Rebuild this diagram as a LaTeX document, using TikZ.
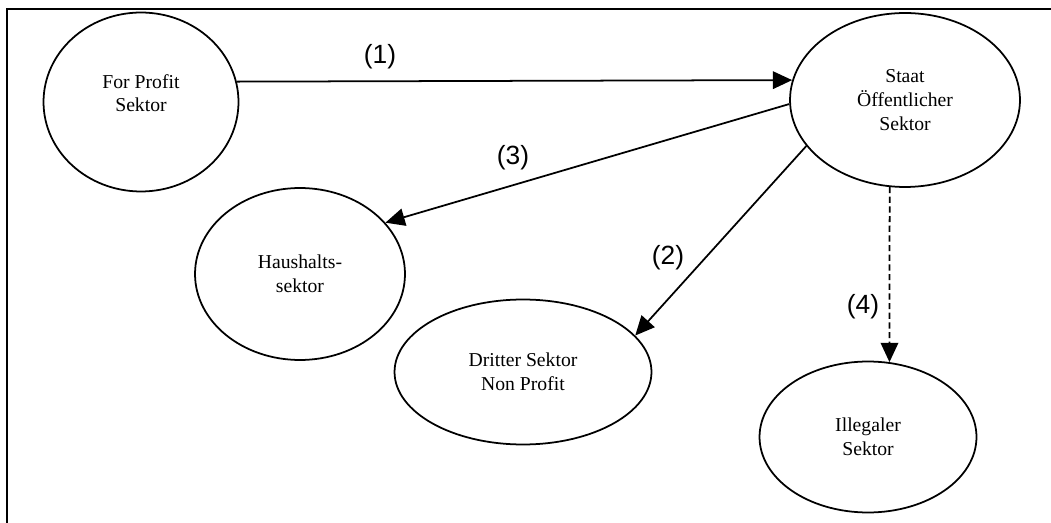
\documentclass[tikz,border=0pt]{standalone}
\usepackage{fontspec}
\setmainfont{Liberation Serif}
\newfontfamily\nrfont{Liberation Sans}
\usetikzlibrary{shapes.geometric,arrows.meta}
\begin{document}
\begin{tikzpicture}[x=0.02cm,y=-0.02cm,
        sektor/.style={ellipse,draw,line width=1pt,inner sep=0pt,align=center,font=\fontsize{11.2}{13.5}\selectfont},
        nr/.style={font=\nrfont\fontsize{15}{18}\selectfont,inner sep=1pt},
        pfeil/.style={line width=1pt,-{Triangle[length=11pt,width=10pt]}}]
            \useasboundingbox (0,0) rectangle (1051,523);
            \draw[line width=1.4pt] (7,523) -- (7,9) -- (1051,9);

            \node[sektor, minimum width=3.9cm, minimum height=3.58cm] at (141,102) (fp) {For Profit\\Sektor\\[-3.5pt]};
            \node[sektor, minimum width=4.6cm, minimum height=3.48cm] at (905,100) (st) {Staat\\Öffentlicher\\Sektor};
            \node[sektor, minimum width=4.2cm, minimum height=3.44cm] at (300,274) (hh) {Haushalts-\\sektor};
            \node[sektor, minimum width=5.14cm, minimum height=2.9cm] at (523,372) (dr) {Dritter Sektor\\Non Profit};
            \node[sektor, minimum width=4.34cm, minimum height=3.02cm] at (868,437) (il) {Illegaler\\Sektor};

            \node[nr] at (380,57) (n1) {(1)};
            \node[nr] at (668,258) (n2) {(2)};
            \node[nr] at (513,158) (n3) {(3)};
            \node[nr] at (863,307) (n4) {(4)};

            \draw[pfeil] (fp.12) -- (st.170);
            \draw[pfeil] (st.205) -- (dr.18);
            \draw[pfeil] (st.182) -- (hh.31);
            \draw[pfeil, dash pattern=on 3.5pt off 2pt] (st.260) -- (il.74);
        \end{tikzpicture}
\end{document}
